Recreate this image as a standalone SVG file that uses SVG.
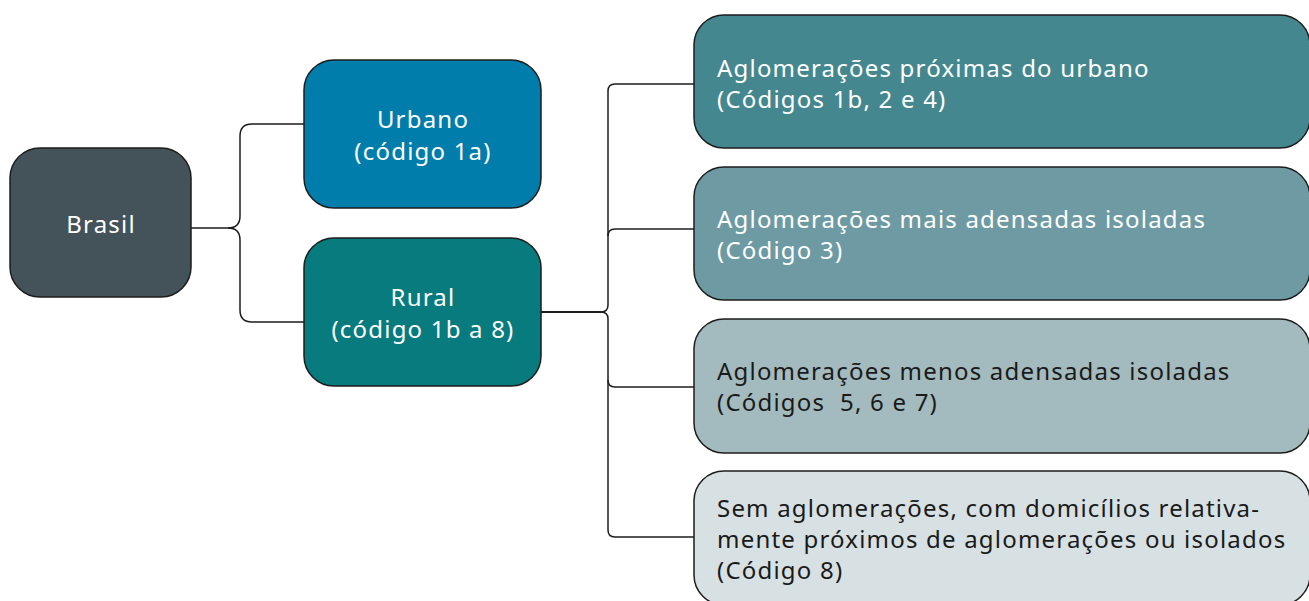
<svg xmlns="http://www.w3.org/2000/svg" width="1309" height="601" viewBox="0 0 1309 601">
<style>
.box{stroke:#1d1d1d;stroke-width:1.5}
.t{font-family:"Noto Sans","Open Sans",sans-serif;font-size:24px;letter-spacing:1.2px}
.w{fill:#ffffff}
.d{fill:#1a1a1a}
.c{text-anchor:middle}
.conn path{fill:none;stroke:#1d1d1d;stroke-width:1.5}
</style>
<rect width="1309" height="601" fill="#ffffff"/>
<g class="conn" id="connectors">
<path d="M191,228 H228 Q240,228 240,216 V136 Q240,124 252,124 H304"/>
<path d="M228,228 Q240,228 240,240 V310 Q240,322 252,322 H304"/>
<path d="M541,312 H601" style="stroke-width:2.2"/>
<path d="M601,312 Q608,312 608,305 V91 Q608,84 615,84 H694"/>
<path d="M608,236 Q608,229 615,229 H694"/>
<path d="M601,312 Q608,312 608,319 V530 Q608,537 615,537 H694"/>
<path d="M608,380 Q608,387 615,387 H694"/>
</g>
<g id="brasil">
<rect class="box" x="10" y="148" width="181" height="149" rx="30" fill="#44525a"/>
<text class="t w c" x="101" y="233">Brasil</text>
</g>
<g id="urbano">
<rect class="box" x="304" y="60" width="237" height="148" rx="30" fill="#007dab"/>
<text class="t w c" x="423" y="128">Urbano</text>
<text class="t w c" x="423" y="160">(código 1a)</text>
</g>
<g id="rural">
<rect class="box" x="304" y="238" width="237" height="148" rx="30" fill="#077b7e"/>
<text class="t w c" x="423" y="306">Rural</text>
<text class="t w c" x="423" y="338">(código 1b a 8)</text>
</g>
<g id="proximas">
<rect class="box" x="694" y="15" width="616" height="133" rx="30" fill="#45878f"/>
<text class="t w" x="717" y="77">Aglomerações próximas do urbano</text>
<text class="t w" x="717" y="108">(Códigos 1b, 2 e 4)</text>
</g>
<g id="mais">
<rect class="box" x="694" y="167" width="616" height="133" rx="30" fill="#6e9ba3"/>
<text class="t w" x="717" y="228">Aglomerações mais adensadas isoladas</text>
<text class="t w" x="717" y="259">(Código 3)</text>
</g>
<g id="menos">
<rect class="box" x="694" y="319" width="616" height="134" rx="30" fill="#a3babe"/>
<text class="t d" x="717" y="380">Aglomerações menos adensadas isoladas</text>
<text class="t d" x="717" y="411" xml:space="preserve">(Códigos  5, 6 e 7)</text>
</g>
<g id="sem">
<rect class="box" x="694" y="471" width="616" height="134" rx="30" fill="#d7e0e3"/>
<text class="t d" x="717" y="517">Sem aglomerações, com domicílios relativa-</text>
<text class="t d" x="717" y="548">mente próximos de aglomerações ou isolados</text>
<text class="t d" x="717" y="579">(Código 8)</text>
</g>
</svg>
